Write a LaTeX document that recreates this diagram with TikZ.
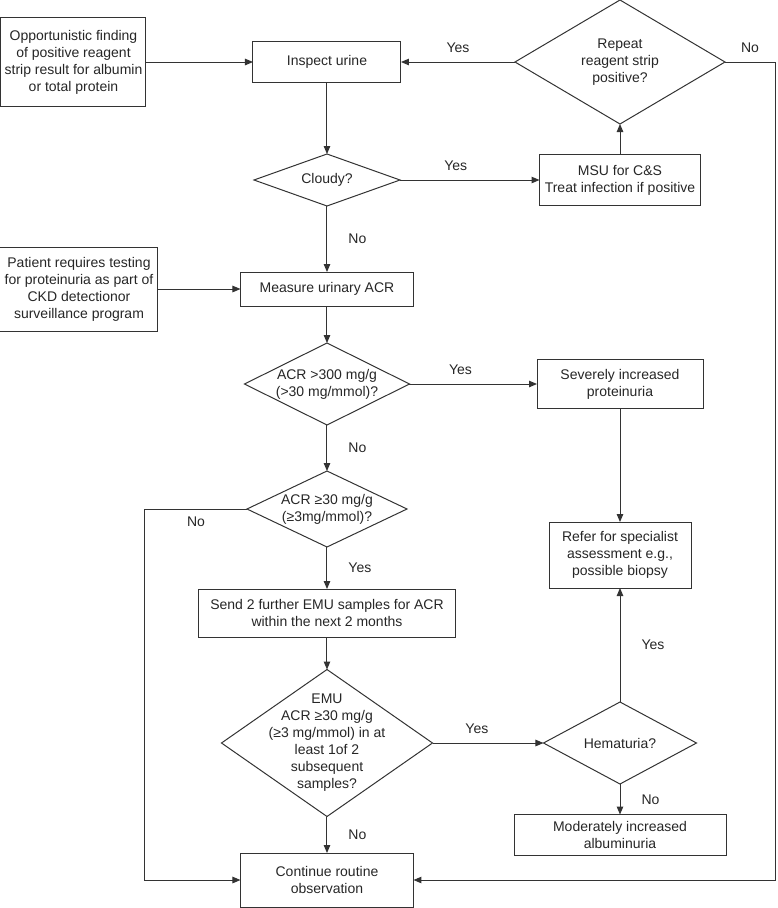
\documentclass[tikz,border=0pt]{standalone}
\usepackage{fontspec}
\setmainfont{Liberation Sans}
\usetikzlibrary{positioning,shapes.geometric,arrows.meta}

\tikzset{
    box/.style={draw=black!80, line width=1pt, rectangle, align=center, inner sep=2pt, outer sep=0pt},
    dia/.style={draw=black!80, line width=1pt, diamond, inner sep=0pt, outer sep=0pt},
    arr/.style={draw=black!80, line width=1pt, -{Triangle[length=8pt,width=6.5pt]}},
    lbl/.style={inner sep=1pt, font=\fontsize{14pt}{17pt}\selectfont}
}

\begin{document}
\begin{tikzpicture}[on grid, font=\fontsize{14pt}{17pt}\selectfont, text=black!85]
    \useasboundingbox (-327pt,62pt) rectangle (451pt,-846pt);
    \node [box, minimum width=148pt, minimum height=41pt] (inspect) at (0,0) {Inspect urine};
    \node [box, left = 253.5pt of inspect, minimum width=145pt, minimum height=89pt] (opp)
        {Opportunistic finding\\of positive reagent\\strip result for albumin\\or total protein};
    \node [dia, right = 293pt of inspect, minimum width=210pt, minimum height=124pt,
        label={[align=center]center:Repeat\\reagent strip\\positive?}] (repeat) {};
    \node [dia, below = 118pt of inspect, minimum width=146pt, minimum height=52pt,
        label={center:Cloudy?}] (cloudy) {};
    \node [box, right = 293pt of cloudy, minimum width=161pt, minimum height=51pt] (msu)
        {MSU for C\&S\\Treat infection if positive};
    \node [box, below = 109pt of cloudy, minimum width=173pt, minimum height=34pt] (measure)
        {Measure urinary ACR};
    \node [box, left = 248pt of measure, minimum width=158pt, minimum height=84pt] (patient)
        {Patient requires testing\\for proteinuria as part of\\CKD detectionor\\surveillance program};
    \node [dia, below = 95pt of measure, minimum width=165pt, minimum height=82pt,
        label={[align=center]center:ACR >300 mg/g\\(>30 mg/mmol)?}] (acr300) {};
    \node [box, right = 293pt of acr300, minimum width=166pt, minimum height=49pt] (severe)
        {Severely increased\\proteinuria};
    \node [dia, below = 125pt of acr300, minimum width=160pt, minimum height=76pt,
        label={[align=center]center:ACR ≥30 mg/g\\(≥3mg/mmol)?}] (acr30) {};
    \node [box, below = 104pt of acr30, minimum width=257pt, minimum height=48pt] (send)
        {Send 2 further EMU samples for ACR\\within the next 2 months};
    \node [dia, below = 130pt of send, minimum width=211pt, minimum height=147pt,
        label={[align=center]center:EMU\\ACR ≥30 mg/g\\(≥3 mg/mmol) in at\\least 1of 2\\subsequent\\samples?}] (emu) {};
    \node [dia, right = 293pt of emu, minimum width=153pt, minimum height=82pt,
        label={center:Hematuria?}] (hema) {};
    \node [box, above = 188pt of hema, minimum width=142pt, minimum height=66pt] (refer)
        {Refer for specialist\\assessment e.g.,\\possible biopsy};
    \node [box, below = 92pt of hema, minimum width=212pt, minimum height=41pt] (moderate)
        {Moderately increased\\albuminuria};
    \node [box, below = 137pt of emu, minimum width=173pt, minimum height=54pt] (continue)
        {Continue routine\\observation};

    \draw [arr] (opp) -- (inspect);
    \draw [arr] (repeat) -- node [lbl, above = 8pt] {Yes} (inspect);
    \draw [arr] (inspect) -- (cloudy);
    \draw [arr] (cloudy) -- node [lbl, above = 8pt, pos=0.4] {Yes} (msu);
    \draw [arr] (msu) -- (repeat);
    \draw [arr] (cloudy) -- node [lbl, right = 20pt] {No} (measure);
    \draw [arr] (patient) -- (measure);
    \draw [arr] (measure) -- (acr300);
    \draw [arr] (acr300) -- node [lbl, above = 8pt, pos=0.4] {Yes} (severe);
    \draw [arr] (acr300) -- node [lbl, right = 20pt] {No} (acr30);
    \draw [arr] (severe) -- (refer);
    \draw [arr] (acr30) -- node [lbl, right = 20pt] {Yes} (send);
    \draw [arr] (acr30.west) -- node [lbl, below = 6pt] {No} ++(-102pt,0) |- (continue.west);
    \draw [arr] (send) -- (emu);
    \draw [arr] (emu) -- node [lbl, above = 8pt, pos=0.4] {Yes} (hema);
    \draw [arr] (hema) -- node [lbl, right = 20pt] {Yes} (refer);
    \draw [arr] (hema) -- node [lbl, right = 20pt] {No} (moderate);
    \draw [arr] (emu) -- node [lbl, right = 20pt] {No} (continue);
    \draw [arr] (repeat.east) -- node [lbl, above = 8pt] {No} ++(50pt,0) |- (continue.east);
\end{tikzpicture}
\end{document}
